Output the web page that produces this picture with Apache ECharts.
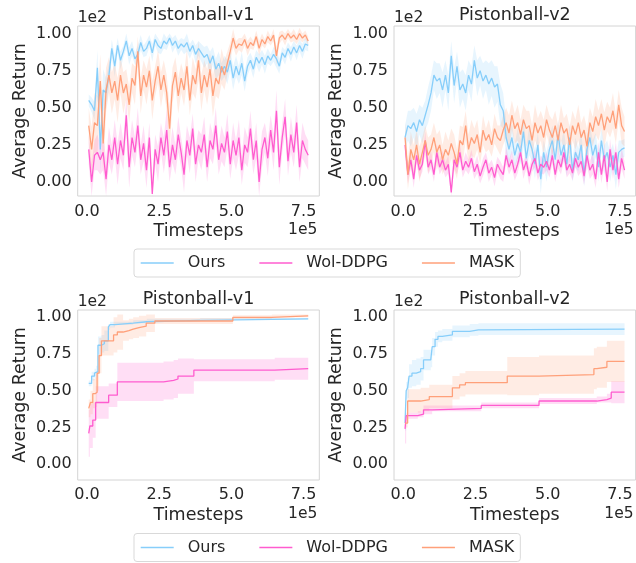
<!DOCTYPE html>
<html><head><meta charset="utf-8">
<script src="https://cdn.jsdelivr.net/npm/echarts/dist/echarts.min.js"></script>
<style>html,body{margin:0;padding:0;background:#fff}#c{width:636px;height:563px}</style>
</head><body><div id="c"></div>
<script>
// ---------------- data ----------------
const seriesNames = ['Ours', 'Wol-DDPG', 'MASK'];
const titles = ['Pistonball-v1', 'Pistonball-v2', 'Pistonball-v1', 'Pistonball-v2'];
const xTicks = [0, 2.5, 5.0, 7.5];          // x 1e5
const yTicks = [0, 0.25, 0.5, 0.75, 1.0];   // y 1e2

// top row: sampled every 0.1e5 timesteps starting at 0.06e5
const topStart = 0.06, topStep = 0.1, topCount = 77;

const tlOurs = [0.55,0.52,0.48,0.77,0.22,0.62,0.6,0.72,0.9,0.78,
 0.92,0.82,0.88,0.95,0.85,0.9,0.83,0.86,0.94,0.88,
 0.9,0.95,0.87,0.96,0.92,0.9,0.95,0.93,0.97,0.92,
 0.95,0.9,0.93,0.91,0.94,0.88,0.92,0.86,0.9,0.87,
 0.84,0.86,0.8,0.85,0.76,0.8,0.74,0.78,0.74,0.82,
 0.7,0.78,0.72,0.8,0.68,0.78,0.82,0.76,0.84,0.8,
 0.84,0.79,0.85,0.82,0.86,0.83,0.78,0.87,0.84,0.9,
 0.86,0.91,0.87,0.92,0.88,0.93,0.92];
const tlOursSd = [0.04,0.05,0.06,0.12,0.15,0.14,0.1,0.08,0.06,0.07,
 0.05,0.06,0.04,0.05,0.06,0.05,0.04,0.06,0.05,0.04,
 0.05,0.04,0.06,0.04,0.05,0.04,0.05,0.04,0.03,0.05,
 0.04,0.05,0.04,0.05,0.06,0.05,0.04,0.06,0.05,0.06,
 0.07,0.06,0.08,0.06,0.07,0.08,0.06,0.07,0.08,0.07,
 0.08,0.07,0.06,0.08,0.07,0.06,0.05,0.06,0.05,0.06,
 0.05,0.06,0.05,0.04,0.05,0.06,0.05,0.04,0.05,0.04,
 0.05,0.04,0.05,0.04,0.05,0.04,0.04];
const tlWol = [0.22,0.0,0.18,0.2,0.15,0.2,0.02,0.25,0.15,0.3,
 0.12,0.28,0.18,0.45,0.1,0.3,0.2,0.38,0.15,0.26,
 0.08,0.3,-0.08,0.22,0.12,0.3,0.18,0.35,0.1,0.25,
 0.15,0.32,0.2,0.05,0.28,0.18,0.36,0.12,0.25,0.2,
 0.32,0.1,0.28,0.22,0.38,0.15,0.26,0.2,0.34,0.12,
 0.28,0.18,0.3,0.08,0.25,0.2,0.36,0.15,0.28,0.0,
 0.22,0.3,0.16,0.35,0.2,0.48,0.1,0.3,0.44,0.14,
 0.32,0.2,0.4,0.1,0.28,0.22,0.18];
const tlWolSd = [0.1,0.12,0.1,0.12,0.1,0.12,0.14,0.12,0.1,0.12,
 0.14,0.12,0.1,0.12,0.14,0.12,0.1,0.12,0.1,0.12,
 0.12,0.1,0.12,0.1,0.12,0.1,0.12,0.14,0.1,0.12,
 0.1,0.12,0.1,0.12,0.1,0.12,0.1,0.12,0.1,0.12,
 0.12,0.1,0.12,0.1,0.12,0.1,0.12,0.1,0.12,0.1,
 0.12,0.1,0.12,0.1,0.12,0.1,0.12,0.1,0.12,0.14,
 0.12,0.1,0.12,0.1,0.12,0.14,0.12,0.1,0.12,0.1,
 0.12,0.1,0.12,0.1,0.12,0.1,0.1];
const tlMask = [0.38,0.22,0.4,0.38,0.68,0.26,0.62,0.72,0.6,0.68,
 0.55,0.72,0.6,0.66,0.52,0.7,0.65,0.88,0.58,0.72,
 0.64,0.75,0.55,0.68,0.78,0.62,0.72,0.6,0.36,0.65,
 0.74,0.58,0.7,0.62,0.78,0.55,0.72,0.66,0.82,0.6,
 0.72,0.64,0.76,0.58,0.7,0.66,0.78,0.72,0.8,0.88,
 0.97,0.9,0.93,0.92,0.96,0.9,0.94,0.92,0.98,0.9,
 0.96,0.93,0.98,0.95,0.99,0.85,0.97,0.99,0.96,1.0,
 0.97,0.99,0.96,1.0,0.97,0.99,0.95];
const tlMaskSd = [0.12,0.15,0.2,0.2,0.18,0.2,0.15,0.12,0.14,0.12,
 0.15,0.12,0.14,0.1,0.12,0.1,0.13,0.1,0.12,0.1,
 0.12,0.1,0.13,0.1,0.11,0.12,0.1,0.12,0.15,0.12,
 0.1,0.12,0.1,0.11,0.12,0.1,0.12,0.1,0.13,0.12,
 0.1,0.12,0.11,0.14,0.12,0.1,0.12,0.1,0.08,0.06,
 0.06,0.05,0.04,0.05,0.04,0.05,0.04,0.03,0.04,0.05,
 0.04,0.03,0.04,0.03,0.04,0.06,0.04,0.03,0.04,0.03,
 0.03,0.04,0.03,0.04,0.03,0.03,0.03];

const trOurs = [0.3,0.38,0.36,0.4,0.34,0.42,0.38,0.45,0.52,0.6,
 0.72,0.68,0.7,0.62,0.72,0.6,0.85,0.65,0.78,0.62,
 0.66,0.6,0.72,0.66,0.82,0.7,0.75,0.68,0.72,0.66,
 0.7,0.64,0.66,0.52,0.48,0.3,0.22,0.3,0.18,0.26,
 0.2,0.34,0.16,0.28,0.22,0.12,0.25,0.02,0.2,0.1,
 0.22,0.28,0.15,0.32,0.18,0.25,0.12,0.3,0.08,0.2,
 0.15,0.25,0.05,0.22,0.3,0.18,0.25,0.1,0.28,0.15,
 0.2,0.1,0.18,0.05,0.2,0.22,0.23];
const trOursSd = [0.08,0.1,0.12,0.1,0.12,0.1,0.12,0.1,0.12,0.12,
 0.1,0.12,0.1,0.12,0.1,0.12,0.1,0.12,0.1,0.12,
 0.1,0.12,0.1,0.12,0.1,0.12,0.1,0.12,0.1,0.14,
 0.12,0.14,0.12,0.14,0.12,0.12,0.1,0.1,0.08,0.1,
 0.08,0.1,0.08,0.1,0.08,0.1,0.08,0.1,0.08,0.1,
 0.08,0.1,0.08,0.1,0.08,0.1,0.08,0.1,0.08,0.1,
 0.08,0.1,0.08,0.1,0.08,0.1,0.08,0.1,0.08,0.1,
 0.08,0.1,0.08,0.1,0.08,0.06,0.06];
const trWol = [0.25,0.05,0.15,0.02,0.18,0.08,0.12,0.28,0.1,0.15,
 0.05,0.2,0.1,0.15,0.08,0.12,-0.07,0.15,0.1,0.2,
 0.08,0.14,0.1,0.16,0.07,0.12,0.04,0.1,0.15,0.06,
 0.1,0.03,0.12,0.08,0.05,0.18,0.1,0.15,0.06,0.12,
 0.2,0.08,0.14,0.04,0.12,0.16,0.06,0.12,0.1,0.14,
 0.08,0.18,0.05,0.15,0.1,0.2,0.08,0.12,0.06,0.16,
 0.1,0.14,0.04,0.18,0.08,0.12,0.02,0.2,0.05,0.18,
 0.0,0.22,0.08,0.2,0.02,0.16,0.08];
const trWolSd = [0.08,0.06,0.05,0.06,0.05,0.06,0.05,0.06,0.05,0.06,
 0.05,0.06,0.05,0.06,0.05,0.06,0.05,0.06,0.05,0.06,
 0.05,0.06,0.05,0.06,0.05,0.06,0.05,0.06,0.05,0.06,
 0.05,0.06,0.05,0.06,0.05,0.06,0.05,0.06,0.05,0.06,
 0.05,0.06,0.05,0.06,0.05,0.06,0.05,0.06,0.05,0.06,
 0.05,0.06,0.05,0.06,0.05,0.06,0.05,0.06,0.05,0.06,
 0.06,0.07,0.06,0.07,0.06,0.07,0.06,0.07,0.06,0.07,
 0.06,0.07,0.06,0.07,0.06,0.07,0.06];
const trMask = [0.3,0.05,0.22,0.15,0.25,0.12,0.2,0.28,0.18,0.22,
 0.3,0.2,0.25,0.15,0.22,0.18,0.26,0.2,0.12,0.28,
 0.25,0.38,0.22,0.3,0.26,0.32,0.2,0.35,0.28,0.32,
 0.25,0.36,0.3,0.28,0.35,0.4,0.33,0.45,0.36,0.4,
 0.32,0.42,0.36,0.38,0.28,0.4,0.33,0.38,0.3,0.42,
 0.35,0.3,0.38,0.28,0.4,0.33,0.36,0.25,0.38,0.32,
 0.4,0.3,0.35,0.24,0.4,0.34,0.44,0.38,0.46,0.35,
 0.44,0.4,0.48,0.36,0.52,0.38,0.34];
const trMaskSd = [0.1,0.1,0.12,0.1,0.1,0.12,0.1,0.1,0.12,0.1,
 0.1,0.12,0.1,0.1,0.12,0.1,0.1,0.12,0.1,0.1,
 0.12,0.1,0.1,0.12,0.1,0.1,0.08,0.1,0.08,0.1,
 0.08,0.1,0.08,0.1,0.1,0.1,0.12,0.1,0.1,0.12,
 0.1,0.1,0.12,0.1,0.1,0.12,0.1,0.1,0.12,0.1,
 0.1,0.12,0.1,0.1,0.12,0.1,0.1,0.12,0.1,0.1,
 0.12,0.1,0.1,0.12,0.1,0.1,0.12,0.1,0.1,0.12,
 0.1,0.1,0.12,0.1,0.1,0.12,0.1];

// bottom row: best-so-far step curves (change points, x in 1e5)
const blOursX = [0.06,0.16,0.26,0.32,0.38,0.5,0.6,0.74,0.8,0.97,1.6,2.07,3.92,7.66];
const blOurs  = [0.55,0.6,0.62,0.63,0.81,0.82,0.84,0.935,0.95,0.96,0.97,0.98,0.99,0.99];
const blOursSd= [0.02,0.03,0.03,0.04,0.06,0.06,0.07,0.02,0.02,0.01,0.01,0.01,0.005,0.005];
const blWolX  = [0.06,0.1,0.2,0.3,0.75,1.05,2.65,3.0,3.15,3.7,6.5,7.66];
const blWol   = [0.21,0.26,0.3,0.42,0.47,0.56,0.57,0.58,0.6,0.64,0.65,0.65];
const blWolSd = [0.16,0.15,0.12,0.11,0.08,0.13,0.13,0.13,0.12,0.075,0.075,0.075];
const blMaskX = [0.06,0.12,0.2,0.28,0.35,0.42,0.5,0.92,1.05,1.25,1.45,1.6,1.8,2.05,2.35,5.05,6.4,7.66];
const blMask  = [0.38,0.42,0.48,0.49,0.62,0.74,0.84,0.88,0.9,0.91,0.92,0.93,0.94,0.96,0.975,1.0,1.01,1.01];
const blMaskSd= [0.06,0.08,0.1,0.1,0.12,0.12,0.1,0.12,0.12,0.07,0.07,0.07,0.07,0.06,0.02,0.015,0.01,0.01];

const brOursX = [0.06,0.1,0.15,0.2,0.3,0.45,0.6,0.7,0.95,1.0,1.1,1.2,1.35,1.7,2.3,2.6,7.66];
const brOurs  = [0.28,0.5,0.52,0.6,0.62,0.63,0.65,0.71,0.72,0.8,0.85,0.87,0.88,0.905,0.915,0.92,0.92];
const brOursSd= [0.05,0.06,0.07,0.08,0.09,0.09,0.08,0.07,0.06,0.06,0.05,0.04,0.04,0.04,0.04,0.04,0.04];
const brWolX  = [0.06,0.1,0.5,0.7,1.0,2.7,4.7,6.7,7.05,7.2,7.66];
const brWol   = [0.24,0.33,0.34,0.37,0.38,0.4,0.43,0.44,0.45,0.49,0.49];
const brWolSd = [0.1,0.02,0.02,0.03,0.02,0.02,0.02,0.02,0.03,0.075,0.075];
const brMaskX = [0.06,0.15,0.6,0.9,1.7,1.95,2.15,3.6,4.7,6.6,6.7,7.05,7.66];
const brMask  = [0.28,0.43,0.44,0.46,0.52,0.54,0.555,0.6,0.61,0.65,0.66,0.7,0.7];
const brMaskSd= [0.03,0.08,0.08,0.08,0.08,0.08,0.08,0.13,0.13,0.14,0.14,0.14,0.14];

// ---------------- styling / layout ----------------
const lineColors = ['#87cefa', '#ff5ccf', '#ffa07a'];
const bandColors = ['rgba(135,206,250,0.2)', 'rgba(255,92,207,0.2)', 'rgba(255,160,122,0.2)'];
const FONT = 'DejaVu Sans';
const TXT = '#262626';
const grids = [
  {left: 77.7, top: 26, width: 241.6, height: 170, ymin: -0.094, ymax: 1.051},
  {left: 394, top: 26, width: 241.6, height: 170, ymin: -0.094, ymax: 1.051},
  {left: 77.7, top: 310, width: 241.6, height: 170, ymin: -0.108, ymax: 1.05},
  {left: 394, top: 310, width: 241.6, height: 170, ymin: -0.108, ymax: 1.05}
];
const XMIN = -0.322, XMAX = 8.044;

const topX = [];
for (let i = 0; i < topCount; i++) topX.push(+(topStart + topStep * i).toFixed(2));

const panels = [
  [[topX, tlOurs, tlOursSd], [topX, tlWol, tlWolSd], [topX, tlMask, tlMaskSd]],
  [[topX, trOurs, trOursSd], [topX, trWol, trWolSd], [topX, trMask, trMaskSd]],
  [[blOursX, blOurs, blOursSd], [blWolX, blWol, blWolSd], [blMaskX, blMask, blMaskSd]],
  [[brOursX, brOurs, brOursSd], [brWolX, brWol, brWolSd], [brMaskX, brMask, brMaskSd]]
];

function bandSeries(gi, xs, ys, sd, color, step) {
  return {
    type: 'custom', xAxisIndex: gi, yAxisIndex: gi, silent: true, clip: true, z: 1,
    data: [[xs[0], ys[0]]],
    renderItem: function (params, api) {
      const cs = params.coordSys;
      const cl = p => [p[0], Math.min(cs.y + cs.height, Math.max(cs.y, p[1]))];
      const top = [], bot = [];
      const n = xs.length;
      for (let i = 0; i < n; i++) {
        top.push(cl(api.coord([xs[i], ys[i] + sd[i]])));
        bot.push(cl(api.coord([xs[i], ys[i] - sd[i]])));
        if (step && i < n - 1) {
          top.push(cl(api.coord([xs[i + 1], ys[i] + sd[i]])));
          bot.push(cl(api.coord([xs[i + 1], ys[i] - sd[i]])));
        }
      }
      return {type: 'polygon', shape: {points: top.concat(bot.reverse())}, style: {fill: color}};
    }
  };
}
function lineSeries(gi, name, xs, ys, color, step) {
  return {
    type: 'line', name: name, xAxisIndex: gi, yAxisIndex: gi,
    data: xs.map((x, i) => [x, ys[i]]),
    symbol: 'none', showSymbol: false, step: step ? 'end' : false,
    lineStyle: {width: 1.3, color: color}, itemStyle: {color: color},
    z: 3, silent: true, clip: true
  };
}

const series = [];
panels.forEach((p, gi) => {
  const step = gi >= 2;
  p.forEach((d, k) => series.push(bandSeries(gi, d[0], d[1], d[2], bandColors[k], step)));
  p.forEach((d, k) => series.push(lineSeries(gi, seriesNames[k], d[0], d[1], lineColors[k], step)));
});

const graphic = [];
grids.forEach((g, gi) => {
  const cx = g.left + g.width / 2;
  const mk = (text, x, y, size, align, rot) => ({
    type: 'text', x: x, y: y, rotation: rot || 0, silent: true,
    style: {text: text, fontSize: size, fontFamily: FONT, fill: TXT,
            align: align, verticalAlign: 'middle', textAlign: align, textVerticalAlign: 'middle'}
  });
  graphic.push(mk(titles[gi], cx, g.top - 10.5, 17.5, 'center'));
  graphic.push(mk('1e2', g.left, g.top - 8.5, 15.5, 'left'));
  graphic.push(mk('Average Return', g.left - 57.7, g.top + g.height / 2, 17.5, 'center', Math.PI / 2));
  graphic.push(mk('Timesteps', cx, g.top + g.height + 35.5, 17.5, 'center'));
  graphic.push(mk('1e5', g.left + g.width - 2, g.top + g.height + 34, 15.5, 'right'));
});

const legendTops = [249, 533.5];
const option = {
  animation: false,
  backgroundColor: '#ffffff',
  grid: grids.map(g => ({
    left: g.left, top: g.top, width: g.width, height: g.height,
    show: true, borderColor: '#d4d4d4', borderWidth: 1, backgroundColor: 'transparent',
    containLabel: false, outerBoundsMode: 'none'
  })),
  xAxis: grids.map((g, gi) => ({
    type: 'value', gridIndex: gi, min: XMIN, max: XMAX,
    axisLine: {show: false}, axisTick: {show: false}, splitLine: {show: false},
    axisLabel: {customValues: xTicks, formatter: v => v.toFixed(1), fontSize: 16,
      fontFamily: FONT, color: TXT, margin: gi >= 2 ? 7 : 7.7, hideOverlap: false}
  })),
  yAxis: grids.map((g, gi) => ({
    type: 'value', gridIndex: gi, min: g.ymin, max: g.ymax,
    axisLine: {show: false}, axisTick: {show: false}, splitLine: {show: false},
    axisLabel: {customValues: yTicks, formatter: v => v.toFixed(2), fontSize: 16,
      fontFamily: FONT, color: TXT, margin: 6, hideOverlap: false}
  })),
  legend: legendTops.map(t => ({
    left: 134, top: t, orient: 'horizontal', selectedMode: false,
    data: seriesNames.map(n => ({name: n, icon: 'rect'})),
    itemWidth: 33, itemHeight: 1.5, itemGap: 34,
    padding: [6, 6, 6, 6.7],
    borderColor: '#d9d9d9', borderWidth: 1, borderRadius: 3,
    textStyle: {fontSize: 16, fontFamily: FONT, color: TXT, padding: [0, 0, 0, 9]}
  })),
  graphic: graphic,
  series: series
};
const chart = echarts.init(document.getElementById('c'), null, {renderer: 'canvas'});
chart.setOption(option);
</script></body></html>
